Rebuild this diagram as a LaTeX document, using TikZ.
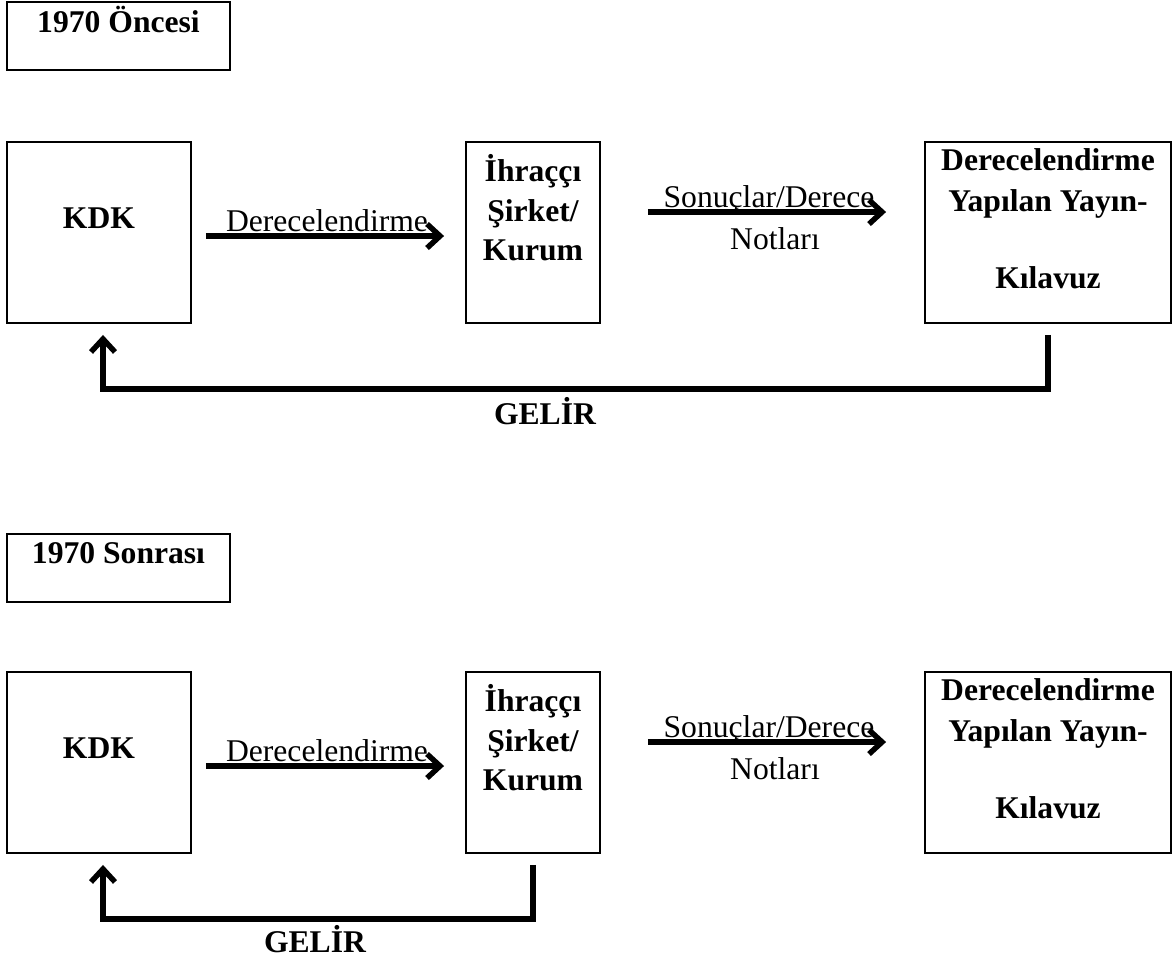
\documentclass[tikz,border=0pt]{standalone}
\usepackage{fontspec}
\setmainfont{Liberation Serif}
\usetikzlibrary{arrows.meta}

\tikzset{
    box/.style={draw, line width=1.1pt, minimum height=3.62cm, inner sep=0pt},
    titlebox/.style={draw, line width=1.1pt, minimum width=4.46cm, minimum height=1.36cm, inner sep=0pt},
    flow/.style={line width=3.1pt, -{Straight Barb[length=0.26cm, width=0.48cm]}},
    boldtext/.style={font=\bfseries, anchor=base, inner sep=0pt},
    plaintext/.style={anchor=base, inner sep=0pt}
}

\begin{document}
\fontsize{18}{22}\selectfont
\begin{tikzpicture}[x=0.02cm, y=-0.02cm]
\useasboundingbox (0,0) rectangle (1176,965);

% 1970 Oncesi
\node (preA) [titlebox] at (118.5,36) {};
\node (preAtxt) [boldtext] at (118.5,32) {1970 Öncesi};

\node (kdkA) [box,
    minimum width=3.68cm
] at (99,232.5) {};
\node (kdkAtxt) [boldtext] at (99,228) {KDK};

\node (ihrA) [box,
    minimum width=2.68cm
] at (533,232.5) {};
\node (ihrA1) [boldtext] at (533,181) {İhraççı};
\node (ihrA2) [boldtext] at (533,221) {Şirket/};
\node (ihrA3) [boldtext] at (533,260) {Kurum};

\node (dkA) [box,
    minimum width=4.92cm
] at (1048,232.5) {};
\node (dkA1) [boldtext] at (1048,170) {Derecelendirme};
\node (dkA2) [boldtext] at (1048,211) {Yapılan Yayın-};
\node (dkA3) [boldtext] at (1048,288) {Kılavuz};

\draw [flow, shorten <=0.28cm, shorten >=0.42cm] ([yshift=-0.07cm]kdkA.east) -- ([yshift=-0.07cm]ihrA.west);
\node (rateA) [plaintext] at (327,231) {Derecelendirme};

\draw [flow, shorten <=0.94cm, shorten >=0.76cm] ([yshift=0.41cm]ihrA.east) -- ([yshift=0.41cm]dkA.west);
\node (resA) [plaintext] at (769,207) {Sonuçlar/Derece};
\node (notA) [plaintext] at (775,249) {Notları};

% GELIR
\draw [flow] ([yshift=-0.22cm]dkA.south) -- ++(0,54) -| ([xshift=0.08cm, yshift=-0.22cm]kdkA.south);
\node (incA) [boldtext] at (545,424) {GELİR};

%-------------------------------------
% 1970 Sonrasi
\node (preB) [titlebox] at (118.5,568) {};
\node (preBtxt) [boldtext] at (118.5,563) {1970 Sonrası};

\node (kdkB) [box,
    minimum width=3.68cm
] at (99,762.5) {};
\node (kdkBtxt) [boldtext] at (99,758) {KDK};

\node (ihrB) [box,
    minimum width=2.68cm
] at (533,762.5) {};
\node (ihrB1) [boldtext] at (533,711) {İhraççı};
\node (ihrB2) [boldtext] at (533,751) {Şirket/};
\node (ihrB3) [boldtext] at (533,790) {Kurum};

\node (dkB) [box,
    minimum width=4.92cm
] at (1048,762.5) {};
\node (dkB1) [boldtext] at (1048,700) {Derecelendirme};
\node (dkB2) [boldtext] at (1048,741) {Yapılan Yayın-};
\node (dkB3) [boldtext] at (1048,818) {Kılavuz};

\draw [flow, shorten <=0.28cm, shorten >=0.42cm] ([yshift=-0.07cm]kdkB.east) -- ([yshift=-0.07cm]ihrB.west);
\node (rateB) [plaintext] at (327,761) {Derecelendirme};

\draw [flow, shorten <=0.94cm, shorten >=0.76cm] ([yshift=0.41cm]ihrB.east) -- ([yshift=0.41cm]dkB.west);
\node (resB) [plaintext] at (769,737) {Sonuçlar/Derece};
\node (notB) [plaintext] at (775,779) {Notları};

% GELIR
\draw [flow] ([yshift=-0.22cm]ihrB.south) -- ++(0,54) -| ([xshift=0.08cm, yshift=-0.22cm]kdkB.south);
\node (incB) [boldtext] at (315,952) {GELİR};

\end{tikzpicture}
\end{document}
